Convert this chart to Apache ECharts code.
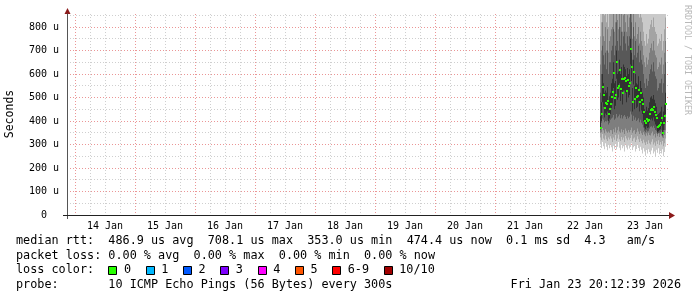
<!DOCTYPE html>
<html><head><meta charset="utf-8">
<script src="https://cdn.jsdelivr.net/npm/echarts@6/dist/echarts.min.js"></script>
<style>html,body{margin:0;padding:0;background:#fff}#c{width:697px;height:297px}</style>
</head><body><div id="c"></div>
<script>
// ---- tick labels / categories ----
const dayLabels = ['14 Jan','15 Jan','16 Jan','17 Jan','18 Jan','19 Jan','20 Jan','21 Jan','22 Jan','23 Jan'];
const labelHours = [36,60,84,108,132,156,180,204,228,252]; // noon of each day, hours since 13 Jan 00:00
const yLabelValues = [0,100,200,300,400,500,600,700,800];
const yMajor = [100,200,300,400,500,600,700,800];
const yMinor = [50,150,250,350,450,550,650,750,850];
const xMin = 20.8, xMax = 261.6, yMax = 855;
const startHour = 234.0, stepHours = 0.4;

// ---- series values (microseconds) ----
const median = [
372,430,543,510,455,478,472,485,430,450,
474,500,525,606,497,512,650,540,548,615,
535,580,520,578,582,570,528,575,550,560,
706,630,482,608,495,540,500,505,532,480,
520,490,472,440,398,393,409,400,405,430,
447,452,445,461,440,425,413,376,380,383,
390,413,350,392,421,474];
const ping1 = [
300,285,310,292,280,305,290,275,298,284,
300,288,270,295,282,303,279,290,310,286,
275,298,284,292,270,300,287,279,296,283,
290,305,276,288,294,270,281,299,285,272,
290,278,262,284,270,255,276,262,280,268,
258,274,286,262,270,250,278,265,284,258,
272,262,280,250,268,290];
const ping2 = [
330,318,345,325,320,338,322,315,330,322,
335,325,310,330,320,340,315,325,342,322,
315,332,320,330,310,336,325,318,330,320,
328,340,315,325,330,310,320,335,322,310,
325,315,305,320,308,298,312,302,318,305,
300,312,322,300,308,295,314,302,318,298,
310,300,315,292,305,325];
const ping3 = [
350,352,370,360,348,365,355,350,355,350,
362,360,345,365,352,372,350,360,375,355,
350,365,352,362,345,368,358,350,362,352,
362,372,350,358,362,345,352,368,355,345,
358,348,340,352,342,335,348,338,350,340,
338,348,355,338,345,330,348,335,350,332,
345,338,330,328,340,360];
const ping4 = [
362,392,410,405,395,400,398,402,385,392,
405,410,415,425,405,410,430,415,420,428,
412,425,410,420,425,418,408,420,412,418,
440,428,400,422,405,415,400,405,412,395,
405,392,385,372,358,352,360,355,358,368,
375,378,372,380,370,362,358,345,348,350,
352,360,335,350,362,390];
const ping5 = [
366,400,480,460,415,432,425,440,400,410,
430,455,475,540,450,465,580,490,500,560,
485,525,470,530,530,520,480,525,500,510,
640,570,440,555,450,490,455,460,485,440,
470,445,430,400,372,365,378,370,372,392,
405,410,402,415,398,385,378,352,356,360,
365,380,340,362,385,430];
const ping6 = [
420,480,600,560,520,530,520,545,490,505,
520,560,580,650,560,570,700,600,610,660,
600,630,580,640,630,620,590,625,600,620,
750,690,540,660,550,600,560,555,590,530,
570,540,520,500,450,440,460,445,455,480,
500,505,495,510,490,475,460,425,430,435,
440,460,400,440,470,520];
const ping7 = [
520,600,720,680,640,690,620,700,600,650,
650,700,720,790,680,720,820,740,700,800,
720,780,700,760,780,730,700,760,720,760,
870,820,660,800,680,740,670,690,720,650,
700,660,640,600,560,540,580,550,570,600,
620,640,610,650,610,590,580,530,540,560,
560,580,520,560,600,650];
const ping8 = [
640,700,820,760,740,800,700,790,690,740,
760,790,800,860,780,820,900,830,790,880,
800,860,780,850,870,820,780,850,800,840,
950,900,750,880,760,820,750,770,800,730,
780,740,720,680,650,630,670,640,660,690,
710,730,700,740,700,680,670,620,630,650,
640,670,600,640,690,740];
const ping9 = [
760,820,930,880,850,910,820,900,800,860,
870,900,920,980,890,930,1000,940,900,990,
900,960,880,950,970,920,880,950,900,940,
1100,1000,860,980,870,930,860,880,910,840,
880,840,820,780,740,720,770,730,750,790,
810,830,800,840,800,780,770,720,730,750,
740,770,700,740,790,840];
const ping10 = [
1300,1400,1500,1450,1400,1420,1380,1480,1350,1400,
1450,1500,1550,1600,1450,1480,1700,1520,1560,1650,
1500,1580,1450,1600,1620,1560,1500,1580,1520,1550,
1800,1650,1450,1620,1460,1540,1440,1480,1540,1420,
1500,1430,1380,1300,1200,1150,1250,1180,1200,1280,
1320,1350,1300,1360,1300,1260,1220,1100,1140,1160,
1180,1240,1050,1150,1260,1400];

// ---- legend texts ----
const rttStats = ['486.9 us avg','708.1 us max','353.0 us min','474.4 us now','0.1 ms sd','4.3   am/s'];
const lossStats = ['0.00 % avg','0.00 % max','0.00 % min','0.00 % now'];
const lossLabels = ['0','1','2','3','4','5','6-9','10/10'];
const lossColors = ['#26ff00','#00b8ff','#0059ff','#7e00ff','#ff00ff','#ff5500','#ff0000','#a10000'];
const probeText = 'probe:       10 ICMP Echo Pings (56 Bytes) every 300s';
const dateText = 'Fri Jan 23 20:12:39 2026';
const smokeColors = ['#cacaca','#a4a4a4','#7e7e7e','#585858','#323232'];

// ---- build ----
const pings = [ping1,ping2,ping3,ping4,ping5,ping6,ping7,ping8,ping9,ping10];
const smokeData = median.map((m,i)=>[startHour + i*stepHours].concat(pings.map(p=>p[i])));
const medianData = median.map((m,i)=>[startHour + i*stepHours, m]);

const minorX = [], majorX = [];
for (let h = 24; h <= xMax; h += 6) { if (h % 24 === 0) majorX.push(h); else minorX.push(h); }

const MONO = '"DejaVu Sans Mono", monospace';
const gridColor = 'rgba(140,140,140,0.42)';
const mgridColor = 'rgba(222,80,80,0.6)';
const dotted = [1,2];

const legendFontSize = 11.8;
const cw = legendFontSize * 0.602;
const rowY = [241, 255.5, 270, 284.5];
const graphics = [];
function txt(x,y,s,extra){ graphics.push(Object.assign({type:'text', x:x, y:y, silent:true, style:{text:s, font: legendFontSize+'px '+MONO, fill:'#000', align:'left', verticalAlign:'middle'}}, extra||{})); }
txt(16, rowY[0], 'median rtt:  ' + rttStats.join('  '));
txt(16, rowY[1], 'packet loss: ' + lossStats.join('  '));
txt(16, rowY[2], 'loss color:');
let cx = 16 + 13*cw;
lossLabels.forEach((l,i)=>{
  graphics.push({type:'rect', silent:true, shape:{x:Math.round(cx)+0.5, y:Math.round(rowY[2]-4)+0.5, width:8, height:8}, style:{fill:lossColors[i], stroke:'#000', lineWidth:1}});
  txt(cx + 2.2*cw, rowY[2], l);
  cx += (l.length + 4.25)*cw;
});
txt(16, rowY[3], probeText);
graphics.push({type:'text', x:681, y:rowY[3], silent:true, style:{text:dateText, font: legendFontSize+'px '+MONO, fill:'#000', align:'right', verticalAlign:'middle'}});
graphics.push({type:'text', x:10, y:114, rotation:Math.PI/2, silent:true, style:{text:'Seconds', font:'11.5px '+MONO, fill:'#000', align:'center', verticalAlign:'middle'}});
graphics.push({type:'text', x:687, y:60, rotation:-Math.PI/2, silent:true, style:{text:'RRDTOOL / TOBI OETIKER', font:'8.3px '+MONO, fill:'#b8b8b8', align:'center', verticalAlign:'middle'}});
// axis extensions and arrows
graphics.push({type:'line', silent:true, shape:{x1:63, y1:215.5, x2:67, y2:215.5}, style:{stroke:'#222', lineWidth:1}});
graphics.push({type:'line', silent:true, shape:{x1:67.5, y1:215, x2:67.5, y2:219}, style:{stroke:'#555', lineWidth:1}});
graphics.push({type:'polygon', silent:true, shape:{points:[[669,212],[675,215.5],[669,219]]}, style:{fill:'#8b1a1a'}});
graphics.push({type:'polygon', silent:true, shape:{points:[[64.5,14],[67.5,8],[70.5,14]]}, style:{fill:'#8b1a1a'}});

const chart = echarts.init(document.getElementById('c'), null, {renderer:'canvas'});
chart.setOption({
  animation:false,
  backgroundColor:'#fff',
  grid:{left:67, right:28, top:14, bottom:82, containLabel:false},
  xAxis:[
    {type:'value', min:xMin, max:xMax, position:'bottom',
     axisLine:{show:true, onZero:false, lineStyle:{color:'#222', width:1}},
     axisTick:{show:false, customValues:minorX}, axisLabel:{show:false},
     splitLine:{show:true, lineStyle:{color:gridColor, type:dotted, width:1}}},
    {type:'value', min:xMin, max:xMax, position:'bottom',
     axisLine:{show:false}, axisTick:{show:false, customValues:majorX}, axisLabel:{show:false},
     splitLine:{show:true, lineStyle:{color:mgridColor, type:dotted, width:1}}},
    {type:'value', min:xMin, max:xMax, position:'bottom',
     axisLine:{show:false}, axisTick:{show:false, customValues:labelHours},
     axisLabel:{show:true, customValues:labelHours, margin:6, fontFamily:MONO, fontSize:10, color:'#000',
       formatter:function(v){ const k = labelHours.indexOf(Math.round(v)); return k>=0 ? dayLabels[k] : ''; }},
     splitLine:{show:false}}
  ],
  yAxis:[
    {type:'value', min:0, max:yMax, position:'left',
     axisLine:{show:true, onZero:false, lineStyle:{color:'#555', width:1}},
     axisTick:{show:false, customValues:yMinor}, axisLabel:{show:false},
     splitLine:{show:true, lineStyle:{color:gridColor, type:dotted, width:1}}},
    {type:'value', min:0, max:yMax, position:'left',
     axisLine:{show:false}, axisTick:{show:false, customValues:yMajor},
     axisLabel:{show:true, customValues:yLabelValues, margin:8, fontFamily:MONO, fontSize:10, color:'#000',
       formatter:function(v){ return v===0 ? '0  ' : v + ' u'; }},
     splitLine:{show:true, lineStyle:{color:mgridColor, type:dotted, width:1}}}
  ],
  series:[
    {type:'custom', xAxisIndex:0, yAxisIndex:0, clip:true, silent:true, z:2,
     data:smokeData, encode:{x:0, y:1},
     renderItem:function(params, api){
       const h = api.value(0);
       const children = [];
       for (let b=0;b<5;b++){
         const lo = api.value(1+b), hi = api.value(10-b);
         const p0 = api.coord([h, lo]);
         const p1 = api.coord([h+stepHours, hi]);
         children.push({type:'rect', shape:{x:p0[0], y:p1[1], width:p1[0]-p0[0], height:p0[1]-p1[1]}, style:{fill:smokeColors[b]}});
       }
       return {type:'group', children:children};
     }},
    {type:'custom', xAxisIndex:0, yAxisIndex:0, clip:true, silent:true, z:3,
     data:medianData, encode:{x:0, y:1},
     renderItem:function(params, api){
       const p = api.coord([api.value(0), api.value(1)]);
       return {type:'rect', shape:{x:p[0], y:Math.round(p[1])-1, width:2, height:2}, style:{fill:lossColors[0]}};
     }}
  ],
  graphic:graphics
});
</script>
</body></html>
